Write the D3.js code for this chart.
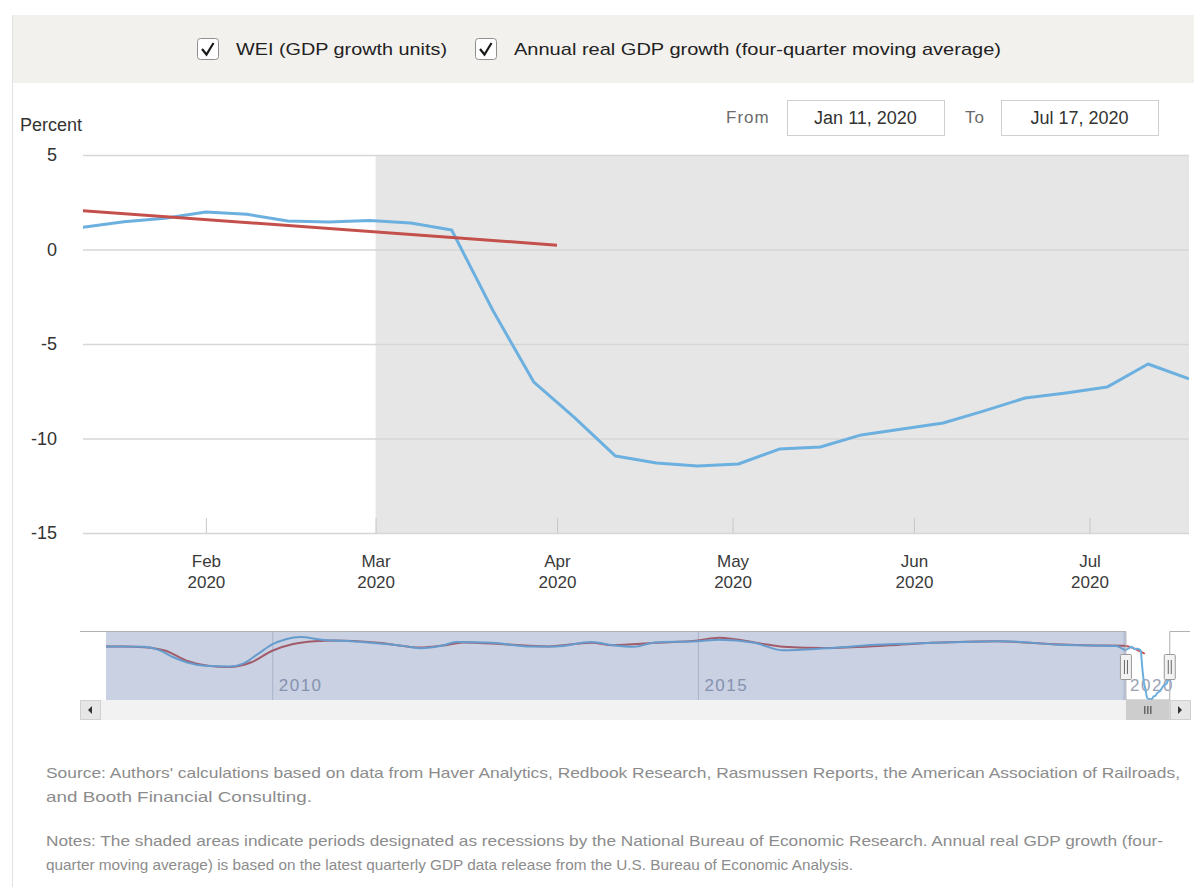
<!DOCTYPE html>
<html>
<head>
<meta charset="utf-8">
<script src="https://cdn.jsdelivr.net/npm/d3@7"></script>
<style>
  body { margin: 0; background: #fff; }
  svg { display: block; font-family: "Liberation Sans", Arial, sans-serif; }
</style>
</head>
<body>
<svg id="chart" width="1194" height="887"></svg>
<script>
// ---- data ----
var weekDates = ["2020-01-11","2020-01-18","2020-01-25","2020-02-01","2020-02-08","2020-02-15","2020-02-22",
  "2020-02-29","2020-03-07","2020-03-14","2020-03-21","2020-03-28","2020-04-04","2020-04-11","2020-04-18",
  "2020-04-25","2020-05-02","2020-05-09","2020-05-16","2020-05-23","2020-05-30","2020-06-06","2020-06-13",
  "2020-06-20","2020-06-27","2020-07-04","2020-07-11","2020-07-18"];
var weiValues = [1.17, 1.47, 1.65, 1.98, 1.86, 1.51, 1.46, 1.53, 1.40, 1.03, -3.2, -7.0, -8.9, -10.93, -11.3,
  -11.45, -11.35, -10.56, -10.45, -9.81, -9.5, -9.18, -8.54, -7.86, -7.59, -7.28, -6.06, -6.85];

var gdpDates = ["2020-01-01", "2020-04-01"];
var gdpValues = [2.28, 0.23];

var yTicks = [5, 0, -5, -10, -15];
var monthTicks = ["2020-02-01","2020-03-01","2020-04-01","2020-05-01","2020-06-01","2020-07-01"];
var recessionStart = "2020-03-01";
var rangeFrom = "2020-01-11", rangeTo = "2020-07-17";

// navigator history (2008-2019)
var navWeiDates = ["2008-01-19","2008-04-01","2008-07-01","2008-09-01","2008-11-01","2009-01-01","2009-04-01",
  "2009-07-01","2009-09-01","2009-11-01","2010-01-01","2010-03-01","2010-05-01","2010-08-01","2010-11-01",
  "2011-03-01","2011-08-01","2011-10-01","2012-01-01","2012-03-01","2012-08-01","2013-01-01","2013-05-01",
  "2013-10-01","2014-01-01","2014-04-01","2014-07-01","2015-01-01","2015-04-01","2015-09-01","2016-01-01",
  "2016-07-01","2017-02-01","2017-10-01","2018-08-01","2019-04-01","2019-12-01"];
var navWeiValues = [2.1, 2.1, 2.0, 1.2, -0.6, -2.0, -2.9, -3.0, -2.2, 0.2, 2.6, 3.9, 4.5, 3.8, 3.5,
  3.0, 2.1, 1.6, 2.3, 3.2, 3.0, 2.1, 2.1, 3.2, 2.4, 2.0, 3.1, 3.4, 3.8, 3.0, 1.1,
  1.6, 2.5, 3.0, 3.4, 2.5, 2.2];
var navGdpDates = ["2008-01-19","2008-04-01","2008-07-01","2008-10-01","2009-01-01","2009-04-01","2009-07-01",
  "2009-10-01","2010-01-01","2010-04-01","2010-07-01","2010-10-01","2011-04-01","2011-10-01","2012-01-01",
  "2012-04-01","2012-10-01","2013-04-01","2013-10-01","2014-01-01","2014-07-01","2015-01-01","2015-04-01",
  "2015-10-01","2016-01-01","2016-07-01","2017-04-01","2017-10-01","2018-07-01","2019-04-01","2019-10-01"];
var navGdpValues = [2.1, 2.1, 1.9, 1.0, -1.6, -2.8, -3.1, -2.0, 1.0, 2.7, 3.4, 3.6, 3.0, 1.8, 2.3,
  3.1, 2.6, 2.1, 3.0, 2.4, 3.0, 3.6, 4.3, 2.8, 2.0, 1.7, 2.4, 3.0, 3.4, 2.6, 2.3];
var navYears = ["2010-01-01", "2015-01-01", "2020-01-01"];

var legendItems = ["WEI (GDP growth units)", "Annual real GDP growth (four-quarter moving average)"];
var fromLabel = "Jan 11, 2020", toLabel = "Jul 17, 2020";
var sourceLines = [
  "Source: Authors' calculations based on data from Haver Analytics, Redbook Research, Rasmussen Reports, the American Association of Railroads,",
  "and Booth Financial Consulting."];
var notesLines = [
  "Notes: The shaded areas indicate periods designated as recessions by the National Bureau of Economic Research. Annual real GDP growth (four-",
  "quarter moving average) is based on the latest quarterly GDP data release from the U.S. Bureau of Economic Analysis."];

var parse = d3.utcParse("%Y-%m-%d");
var BLUE = "#6cb0e0", RED = "#c4504c";

var svg = d3.select("#chart");

// frame + legend band
svg.append("rect").attr("x", 12).attr("y", 15).attr("width", 1182).attr("height", 68).attr("fill", "#f3f1ee");
svg.append("line").attr("x1", 12.5).attr("x2", 12.5).attr("y1", 15).attr("y2", 887)
  .attr("stroke", "#e2e2e2");

var legendX = [197, 475], legendW = [211, 487];
legendItems.forEach(function(txt, i) {
  var bx = legendX[i];
  svg.append("rect").attr("x", bx + 0.5).attr("y", 38.5).attr("width", 21).attr("height", 21).attr("rx", 3)
    .attr("fill", "#fff").attr("stroke", "#8f8f8f");
  svg.append("path").attr("d", "M" + (bx + 5) + ",49 L" + (bx + 9.5) + ",54.5 L" + (bx + 16.5) + ",43")
    .attr("fill", "none").attr("stroke", "#1a1a1a").attr("stroke-width", 2.2);
  svg.append("text").attr("x", bx + 39).attr("y", 55).attr("font-size", 17).attr("fill", "#222")
    .attr("textLength", legendW[i]).attr("lengthAdjust", "spacingAndGlyphs").text(txt);
});

// range inputs
svg.append("text").attr("x", 726).attr("y", 123).attr("font-size", 17).attr("fill", "#6b6b6b")
  .attr("letter-spacing", 1).text("From");
svg.append("text").attr("x", 965).attr("y", 123).attr("font-size", 17).attr("fill", "#6b6b6b")
  .attr("letter-spacing", 1).text("To");
[[787, fromLabel], [1001, toLabel]].forEach(function(b) {
  svg.append("rect").attr("x", b[0] + 0.5).attr("y", 100.5).attr("width", 157).attr("height", 35)
    .attr("fill", "#fff").attr("stroke", "#cfcfcf");
  svg.append("text").attr("x", b[0] + 78.5).attr("y", 124).attr("text-anchor", "middle")
    .attr("font-size", 18).attr("fill", "#333").text(b[1]);
});

// ---- main chart ----
var pLeft = 83, pRight = 1189, pTop = 155, pBottom = 533;
var x = d3.scaleUtc().domain([parse("2020-01-11"), parse("2020-07-18")]).range([pLeft, pRight]);
var y = d3.scaleLinear().domain([-15, 5]).range([pBottom, pTop]);

svg.append("defs").append("clipPath").attr("id", "plotclip")
  .append("rect").attr("x", pLeft).attr("y", pTop - 10).attr("width", pRight - pLeft)
  .attr("height", pBottom - pTop + 20);

svg.append("text").attr("x", 20).attr("y", 131).attr("font-size", 18).attr("fill", "#333").text("Percent");

// recession shade
svg.append("rect").attr("x", x(parse(recessionStart))).attr("y", pTop)
  .attr("width", pRight - x(parse(recessionStart))).attr("height", pBottom - pTop).attr("fill", "#e6e6e6");

var gy = svg.append("g").attr("transform", "translate(" + pLeft + ",0)")
  .call(d3.axisLeft(y).tickValues(yTicks).tickSize(-(pRight - pLeft)).tickPadding(26)
    .tickFormat(function(d) { return String(d); }));
gy.select(".domain").remove();
gy.selectAll(".tick line").attr("stroke", "#d6d6d6").attr("stroke-width", 1.5);
gy.selectAll(".tick text").attr("font-size", 18).attr("fill", "#333")
  .attr("font-family", "Liberation Sans, Arial, sans-serif");

var gx = svg.append("g").attr("transform", "translate(0," + pBottom + ")")
  .call(d3.axisBottom(x).tickValues(monthTicks.map(parse)).tickSize(-15));
gx.select(".domain").remove();
gx.selectAll(".tick line").attr("stroke", "#c8c8c8");
gx.selectAll(".tick text").each(function(d) {
  var t = d3.select(this).text(null).attr("y", 0).attr("dy", null)
    .attr("font-size", 17).attr("fill", "#3a3a3a").attr("font-family", "Liberation Sans, Arial, sans-serif");
  t.append("tspan").attr("x", 0).attr("y", 34).text(d3.utcFormat("%b")(d));
  t.append("tspan").attr("x", 0).attr("y", 55).text(d3.utcFormat("%Y")(d));
});

var weiData = weekDates.map(function(d, i) { return { date: parse(d), v: weiValues[i] }; });
var gdpData = gdpDates.map(function(d, i) { return { date: parse(d), v: gdpValues[i] }; });
var line = d3.line().x(function(d) { return x(d.date); }).y(function(d) { return y(d.v); });

var plot = svg.append("g").attr("clip-path", "url(#plotclip)");
plot.append("path").datum(weiData).attr("d", line).attr("fill", "none")
  .attr("stroke", BLUE).attr("stroke-width", 3).attr("stroke-linejoin", "round");
plot.append("path").datum(gdpData).attr("d", line).attr("fill", "none")
  .attr("stroke", RED).attr("stroke-width", 3);

// ---- navigator ----
var nTop = 631, nBot = 700, nLeft = 106, nRight = 1170;
var nx = d3.scaleUtc().domain([parse("2008-01-19"), parse("2020-07-18")]).range([nLeft, nRight]);
var ny = d3.scaleLinear().domain([-11.5, 6]).range([nBot, nTop]);

var gn = svg.append("g").attr("transform", "translate(0," + nBot + ")")
  .call(d3.axisBottom(nx).tickValues(navYears.map(parse)).tickSize(-(nBot - nTop)));
gn.select(".domain").remove();
gn.selectAll(".tick line").attr("stroke", "#cfd3dc");
gn.selectAll(".tick text").attr("x", 6).attr("y", -9).attr("dy", null).attr("text-anchor", "start")
  .attr("font-size", 17).attr("letter-spacing", 1.5).attr("fill", "#9aa2b4")
  .attr("font-family", "Liberation Sans, Arial, sans-serif")
  .text(d3.utcFormat("%Y"));

var navWei = navWeiDates.map(function(d, i) { return { date: parse(d), v: navWeiValues[i] }; }).concat(weiData);
var navGdp = navGdpDates.map(function(d, i) { return { date: parse(d), v: navGdpValues[i] }; }).concat(gdpData);
var nline = d3.line().curve(d3.curveMonotoneX)
  .x(function(d) { return nx(d.date); }).y(function(d) { return Math.min(ny(d.v), nBot - 1); });

svg.append("path").datum(navGdp).attr("d", nline).attr("fill", "none").attr("stroke", RED).attr("stroke-width", 2);
svg.append("path").datum(navWei).attr("d", nline).attr("fill", "none").attr("stroke", BLUE).attr("stroke-width", 2);

var xFrom = nx(parse(rangeFrom)), xTo = nx(parse(rangeTo));
svg.append("rect").attr("x", nLeft).attr("y", nTop).attr("width", xFrom - nLeft).attr("height", nBot - nTop)
  .attr("fill", "rgb(90,114,168)").attr("fill-opacity", 0.33);
svg.append("rect").attr("x", xTo).attr("y", nTop).attr("width", nRight - xTo).attr("height", nBot - nTop)
  .attr("fill", "rgb(90,114,168)").attr("fill-opacity", 0.33);

svg.append("path")
  .attr("d", "M80," + (nTop + 0.5) + "H" + xFrom + "V" + nBot + "H" + xTo + "V" + (nTop + 0.5) + "H1190")
  .attr("fill", "none").attr("stroke", "#b2b1b6");

// scrollbar
var sTop = 700, sH = 20;
svg.append("rect").attr("x", 80).attr("y", sTop).attr("width", 1110).attr("height", sH).attr("fill", "#f2f2f2");
svg.append("rect").attr("x", xFrom).attr("y", sTop).attr("width", xTo - xFrom).attr("height", sH)
  .attr("fill", "#cdcdcd");
[-3, 0, 3].forEach(function(o) {
  var cx = (xFrom + xTo) / 2 + o;
  svg.append("line").attr("x1", cx).attr("x2", cx).attr("y1", sTop + 6).attr("y2", sTop + 14)
    .attr("stroke", "#333").attr("stroke-width", 1);
});
[[80, -1], [1170, 1]].forEach(function(b) {
  svg.append("rect").attr("x", b[0] + 0.5).attr("y", sTop + 0.5).attr("width", 20).attr("height", sH - 1)
    .attr("fill", "#e6e6e6").attr("stroke", "#d0d0d0");
  var cx = b[0] + 10, cy = sTop + 10;
  svg.append("path").attr("d", "M" + (cx + 2 * b[1]) + "," + cy + "L" + (cx - 2 * b[1]) + "," + (cy - 4) +
    "L" + (cx - 2 * b[1]) + "," + (cy + 4) + "Z").attr("fill", "#333");
});

// handles
[xFrom, xTo].forEach(function(hx) {
  svg.append("rect").attr("x", hx - 5.5).attr("y", 654.5).attr("width", 11).attr("height", 25).attr("rx", 1)
    .attr("fill", "#f2f2f2").attr("stroke", "#999");
  [-1.5, 1.5].forEach(function(o) {
    svg.append("line").attr("x1", hx + o).attr("x2", hx + o).attr("y1", 660).attr("y2", 674)
      .attr("stroke", "#666");
  });
});

// ---- source / notes ----
var noteW = [1134, 266, 1117, 807], noteY = [778, 802, 846, 870];
sourceLines.concat(notesLines).forEach(function(txt, i) {
  svg.append("text").attr("x", 46).attr("y", noteY[i]).attr("font-size", 15).attr("fill", "#8c8c8c")
    .attr("font-family", "'Liberation Sans Narrow', 'Liberation Sans', Arial, sans-serif")
    .attr("textLength", noteW[i]).attr("lengthAdjust", "spacingAndGlyphs").text(txt);
});
</script>
</body>
</html>
